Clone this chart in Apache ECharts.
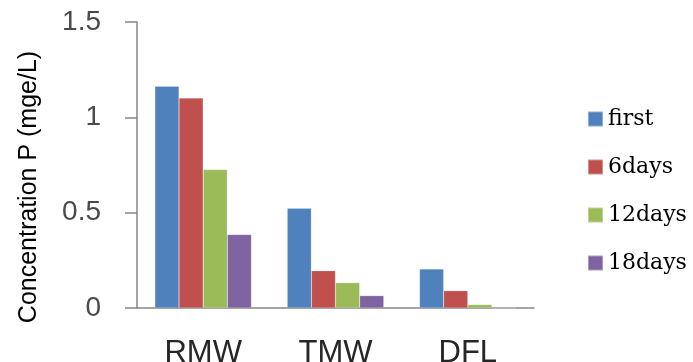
<!DOCTYPE html>
<html><head><meta charset="utf-8">
<script src="https://cdn.jsdelivr.net/npm/echarts@6/dist/echarts.min.js"></script>
<style>html,body{margin:0;padding:0;background:#fff}#c{width:693px;height:362px}</style>
</head><body><div id="c"></div>
<script>
var categories = ['RMW', 'TMW', 'DFL'];
var seriesNames = ['first', '6days', '12days', '18days'];
var first = [1.163, 0.523, 0.205];
var days6 = [1.101, 0.196, 0.091];
var days12 = [0.726, 0.133, 0.018];
var days18 = [0.385, 0.065, 0];
var yTicks = [0, 0.5, 1, 1.5];
var colors = ['#4F81BD', '#C0504D', '#9BBB59', '#8064A2'];
var values = [first, days6, days12, days18];

var chart = echarts.init(document.getElementById('c'));
chart.setOption({
  animation: false,
  color: colors,
  grid: {left: 137, right: 159, top: 22, bottom: 54, containLabel: false, outerBoundsMode: 'none'},
  legend: {
    orient: 'vertical', left: 587, top: 108, padding: 0,
    itemWidth: 15, itemHeight: 15, itemGap: 26,
    icon: 'rect',
    textStyle: {fontFamily: 'DejaVu Serif', fontSize: 22, color: '#000', padding: [0,0,0,0]},
    data: seriesNames
  },
  graphic: [{
    type: 'text', x: 29, y: 187, rotation: Math.PI / 2,
    style: {text: 'Concentration P (mge/L)', font: '25px "Liberation Sans"', fill: '#000',
      textAlign: 'center', textVerticalAlign: 'middle'}
  }],
  xAxis: {
    type: 'category', data: categories,
    axisLine: {lineStyle: {color: '#868686', width: 1.5}},
    axisTick: {show: false},
    axisLabel: {fontFamily: 'Liberation Sans', fontSize: 31, color: '#262626', margin: 30}
  },
  yAxis: {
    type: 'value', min: 0, max: 1.5, interval: 0.5,
    axisLine: {show: true, lineStyle: {color: '#868686', width: 1.5}},
    axisTick: {show: true, length: 12, lineStyle: {color: '#868686', width: 1.5}},
    splitLine: {show: false},
    axisLabel: {fontFamily: 'Liberation Sans', fontSize: 28, color: '#4a4a4a', margin: 36,
      formatter: function (v) { return yTicks.indexOf(v) >= 0 ? String(v) : ''; }}
  },
  series: seriesNames.map(function (n, i) {
    return {name: n, type: 'bar', data: values[i], barGap: '0%', barCategoryGap: '27%',
      itemStyle: {borderColor: 'rgba(255,255,255,0.35)', borderWidth: 0.5}};
  })
});
</script></body></html>
